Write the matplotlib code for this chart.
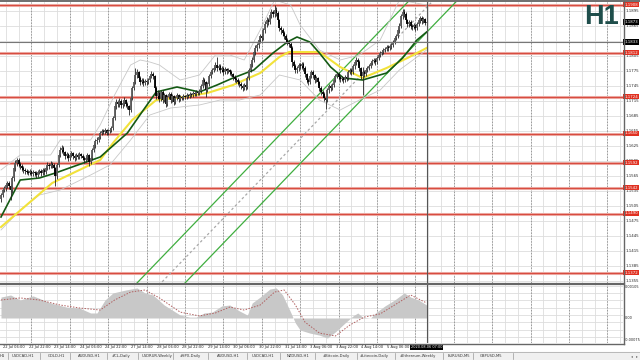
import numpy as np
import pandas as pd
import matplotlib
matplotlib.use("Agg")
import matplotlib.pyplot as plt
from matplotlib.transforms import blended_transform_factory as btf

# ---------------- data (EURUSD H1) ----------------
first_open = 1.1520
closes = [
 1.1527,1.1537,1.1541,1.1547,1.1551,1.1545,1.1537,1.1561,1.1581,1.1591,1.1597,1.1589,1.1585,1.1581,1.1577,1.1575,
 1.1573,1.1571,1.1575,1.1569,1.1573,1.1571,1.1567,1.1573,1.1575,1.1571,1.1577,1.1573,1.1581,1.1587,1.1585,1.1589,
 1.1587,1.1581,1.1565,1.1587,1.1607,1.1617,1.1621,1.1613,1.1605,1.1609,1.1601,1.1607,1.1611,1.1605,1.1601,1.1607,
 1.1603,1.1609,1.1605,1.1601,1.1597,1.1601,1.1607,1.1593,1.1601,1.1617,1.1627,1.1635,1.1637,1.1643,1.1651,1.1655,
 1.1653,1.1657,1.1651,1.1655,1.1657,1.1661,1.1681,1.1705,1.1713,1.1709,1.1715,1.1707,1.1711,1.1717,1.1709,1.1705,
 1.1697,1.1721,1.1741,1.1753,1.1767,1.1773,1.1761,1.1753,1.1757,1.1751,1.1755,1.1753,1.1757,1.1765,1.1769,1.1765,
 1.1741,1.1725,1.1731,1.1719,1.1733,1.1717,1.1727,1.1709,1.1723,1.1729,1.1717,1.1725,1.1713,1.1721,1.1727,1.1719,
 1.1723,1.1721,1.1725,1.1723,1.1727,1.1725,1.1729,1.1727,1.1731,1.1729,1.1733,1.1731,1.1735,1.1745,1.1757,1.1753,
 1.1737,1.1749,1.1765,1.1773,1.1777,1.1781,1.1787,1.1781,1.1785,1.1777,1.1781,1.1773,1.1779,1.1775,1.1777,1.1773,
 1.1769,1.1763,1.1759,1.1757,1.1753,1.1749,1.1745,1.1741,1.1747,1.1743,1.1761,1.1777,1.1789,1.1797,1.1813,1.1821,
 1.1827,1.1837,1.1845,1.1841,1.1857,1.1869,1.1877,1.1873,1.1887,1.1893,1.1889,1.1897,1.1891,1.1877,1.1861,1.1857,
 1.1851,1.1845,1.1837,1.1833,1.1829,1.1821,1.1793,1.1785,1.1777,1.1781,1.1787,1.1785,1.1789,1.1781,1.1769,1.1757,
 1.1753,1.1765,1.1773,1.1767,1.1757,1.1761,1.1753,1.1741,1.1733,1.1729,1.1721,1.1717,1.1737,1.1745,1.1741,1.1747,
 1.1757,1.1765,1.1769,1.1763,1.1759,1.1761,1.1757,1.1763,1.1761,1.1773,1.1777,1.1773,1.1785,1.1793,1.1797,1.1793,
 1.1781,1.1765,1.1773,1.1769,1.1777,1.1781,1.1785,1.1791,1.1795,1.1797,1.1793,1.1801,1.1807,1.1811,1.1813,1.1817,
 1.1819,1.1823,1.1821,1.1825,1.1827,1.1833,1.1841,1.1845,1.1857,1.1865,1.1885,1.1893,1.1889,1.1877,1.1869,1.1873,
 1.1865,1.1863,1.1867,1.1861,1.1869,1.1877,1.1881,1.1875,1.1879,1.1871,1.1873]
highs = [
 1.1532,1.1541,1.1546,1.1552,1.1556,1.1555,1.1549,1.1566,1.1588,1.1598,1.1602,1.1601,1.1593,1.1590,1.1585,1.1582,
 1.1579,1.1577,1.1579,1.1578,1.1577,1.1576,1.1575,1.1577,1.1580,1.1579,1.1582,1.1581,1.1586,1.1593,1.1592,1.1595,
 1.1594,1.1591,1.1584,1.1591,1.1612,1.1623,1.1627,1.1625,1.1616,1.1614,1.1612,1.1611,1.1616,1.1614,1.1609,1.1611,
 1.1611,1.1613,1.1612,1.1609,1.1605,1.1605,1.1611,1.1609,1.1605,1.1621,1.1632,1.1640,1.1643,1.1648,1.1656,1.1660,
 1.1659,1.1661,1.1660,1.1659,1.1661,1.1666,1.1686,1.1711,1.1719,1.1717,1.1721,1.1719,1.1716,1.1723,1.1720,1.1713,
 1.1708,1.1725,1.1746,1.1759,1.1781,1.1779,1.1776,1.1765,1.1762,1.1761,1.1759,1.1759,1.1762,1.1770,1.1775,1.1773,
 1.1768,1.1745,1.1737,1.1735,1.1738,1.1737,1.1732,1.1730,1.1727,1.1734,1.1733,1.1729,1.1728,1.1725,1.1731,1.1730,
 1.1727,1.1726,1.1729,1.1728,1.1731,1.1730,1.1733,1.1732,1.1735,1.1734,1.1737,1.1736,1.1740,1.1750,1.1763,1.1761,
 1.1756,1.1753,1.1770,1.1778,1.1782,1.1786,1.1793,1.1803,1.1790,1.1789,1.1786,1.1784,1.1783,1.1782,1.1781,1.1780,
 1.1777,1.1772,1.1767,1.1763,1.1761,1.1757,1.1753,1.1749,1.1751,1.1751,1.1765,1.1782,1.1794,1.1803,1.1818,1.1827,
 1.1832,1.1842,1.1850,1.1849,1.1862,1.1875,1.1883,1.1882,1.1892,1.1899,1.1897,1.1908,1.1903,1.1895,1.1880,1.1866,
 1.1862,1.1856,1.1850,1.1842,1.1838,1.1833,1.1825,1.1798,1.1790,1.1786,1.1792,1.1791,1.1794,1.1793,1.1785,1.1772,
 1.1761,1.1770,1.1778,1.1777,1.1770,1.1766,1.1764,1.1756,1.1745,1.1737,1.1733,1.1725,1.1742,1.1750,1.1749,1.1752,
 1.1762,1.1770,1.1774,1.1773,1.1767,1.1765,1.1764,1.1767,1.1767,1.1778,1.1782,1.1781,1.1790,1.1798,1.1803,1.1801,
 1.1797,1.1784,1.1783,1.1778,1.1781,1.1786,1.1790,1.1796,1.1800,1.1802,1.1801,1.1806,1.1812,1.1816,1.1818,1.1822,
 1.1824,1.1828,1.1827,1.1830,1.1832,1.1838,1.1846,1.1850,1.1862,1.1871,1.1890,1.1899,1.1900,1.1893,1.1880,1.1878,
 1.1877,1.1869,1.1871,1.1870,1.1873,1.1881,1.1886,1.1885,1.1883,1.1882,1.1877]
lows = [
 1.1514,1.1523,1.1533,1.1536,1.1542,1.1540,1.1517,1.1532,1.1556,1.1576,1.1586,1.1584,1.1580,1.1576,1.1572,1.1570,
 1.1569,1.1567,1.1567,1.1565,1.1565,1.1566,1.1562,1.1563,1.1569,1.1566,1.1567,1.1568,1.1570,1.1577,1.1580,1.1581,
 1.1582,1.1576,1.1545,1.1560,1.1583,1.1603,1.1612,1.1608,1.1600,1.1601,1.1596,1.1597,1.1603,1.1600,1.1596,1.1597,
 1.1599,1.1599,1.1601,1.1597,1.1592,1.1593,1.1598,1.1585,1.1589,1.1598,1.1613,1.1622,1.1630,1.1633,1.1639,1.1647,
 1.1649,1.1649,1.1647,1.1647,1.1651,1.1653,1.1658,1.1677,1.1700,1.1703,1.1704,1.1701,1.1702,1.1706,1.1703,1.1699,
 1.1687,1.1693,1.1717,1.1737,1.1749,1.1762,1.1756,1.1748,1.1749,1.1746,1.1747,1.1748,1.1749,1.1753,1.1761,1.1760,
 1.1737,1.1719,1.1720,1.1713,1.1715,1.1711,1.1713,1.1703,1.1705,1.1719,1.1712,1.1713,1.1708,1.1709,1.1717,1.1714,
 1.1715,1.1717,1.1718,1.1719,1.1720,1.1721,1.1722,1.1723,1.1724,1.1725,1.1726,1.1727,1.1728,1.1732,1.1741,1.1748,
 1.1723,1.1733,1.1745,1.1761,1.1769,1.1773,1.1777,1.1776,1.1777,1.1772,1.1773,1.1768,1.1769,1.1770,1.1771,1.1768,
 1.1765,1.1758,1.1754,1.1752,1.1748,1.1744,1.1740,1.1735,1.1737,1.1738,1.1740,1.1757,1.1773,1.1784,1.1793,1.1808,
 1.1816,1.1822,1.1832,1.1835,1.1837,1.1852,1.1864,1.1867,1.1869,1.1882,1.1883,1.1884,1.1885,1.1871,1.1855,1.1850,
 1.1845,1.1839,1.1831,1.1827,1.1823,1.1815,1.1783,1.1779,1.1771,1.1772,1.1776,1.1779,1.1780,1.1776,1.1764,1.1751,
 1.1748,1.1749,1.1761,1.1762,1.1752,1.1753,1.1748,1.1736,1.1727,1.1723,1.1715,1.1699,1.1713,1.1732,1.1736,1.1737,
 1.1743,1.1753,1.1761,1.1758,1.1754,1.1755,1.1752,1.1753,1.1756,1.1757,1.1769,1.1768,1.1769,1.1780,1.1788,1.1787,
 1.1776,1.1760,1.1727,1.1764,1.1765,1.1773,1.1777,1.1781,1.1787,1.1791,1.1788,1.1789,1.1797,1.1803,1.1807,1.1809,
 1.1813,1.1815,1.1816,1.1817,1.1820,1.1823,1.1829,1.1837,1.1841,1.1852,1.1861,1.1880,1.1883,1.1872,1.1863,1.1864,
 1.1860,1.1858,1.1859,1.1856,1.1857,1.1865,1.1872,1.1870,1.1871,1.1867,1.1868]

# moving averages (bar index, price)
ma_fast_bar = [0, 12, 24, 34, 62, 79, 89, 97, 110, 124, 135, 145, 158, 170, 179, 185, 193, 199, 206, 214, 226, 241, 251, 260, 266]
ma_fast_val = [1.1483,1.1557,1.1561,1.1571,1.1603,1.1651,1.1697,1.1733,1.1743,1.1733,1.1747,1.1761,1.1777,1.1811,
               1.1833,1.1843,1.1833,1.1811,1.1783,1.1761,1.1757,1.1771,1.1801,1.1837,1.1853]
ma_slow_bar = [0, 32, 62, 70, 82, 97, 114, 129, 145, 162, 174, 180, 199, 212, 226, 241, 254, 266]
ma_slow_val = [1.1463,1.1551,1.1597,1.1631,1.1677,1.1717,1.1723,1.1731,1.1747,1.1771,1.1803,1.1813,1.1813,1.1783,
               1.1761,1.1781,1.1801,1.1821]
# envelope bands
band_bar = [0, 12, 31, 37, 56, 62, 71, 81, 87, 93, 99, 112, 124, 134, 143, 152, 162, 171, 181, 187, 199, 212, 224, 237, 249, 266]
band_up = [1.1577,1.1607,1.1607,1.1637,1.1637,1.1667,1.1727,1.1787,1.1797,1.1793,1.1787,1.1757,1.1767,1.1807,1.1807,
           1.1797,1.1857,1.1917,1.1907,1.1867,1.1817,1.1797,1.1807,1.1837,1.1917,1.1907]
band_lo_bar = [0, 12, 24, 37, 56, 68, 81, 93, 106, 124, 137, 149, 162, 174, 187, 199, 212, 224, 237, 249, 266]
band_lo = [1.1457,1.1497,1.1527,1.1537,1.1567,1.1587,1.1637,1.1687,1.1701,1.1707,1.1717,1.1717,1.1727,1.1767,1.1757,
           1.1717,1.1697,1.1717,1.1737,1.1777,1.1817]

# channel (anchor bar, anchor price) and slope per bar
chan_upper = (85, 1.1351)
chan_mid = (100, 1.1351)
chan_lower = (115, 1.1351)
chan_slope = 0.000332

# horizontal levels
levels = [1.1908, 1.1812, 1.1724, 1.1650, 1.1592, 1.1542, 1.1490, 1.1372]
crosshair_bar = 266
crosshair_price = 1.1833

# MACD histogram and signal (bar index, value)
macd_bar = [0,6,12,20,31,41,49,56,60,65,70,78,85,90,95,102,112,118,122,127,132,138,143,149,154,157,162,168,172,176,
            181,184,187,193,199,204,209,215,220,223,226,231,234,240,246,252,256,261,266]
macd_val = [0.00071,0.00078,0.00061,0.00075,0.00051,0.00037,0.00034,0.00017,0.00017,0.00061,0.00085,0.00095,0.00102,
            0.00085,0.00078,0.00044,0.00010,0.00003,0.00003,0.00017,0.00020,0.00041,0.00044,0.00024,0.00010,0.00051,
            0.00071,0.00098,0.00102,0.00078,0.00020,-0.00017,-0.00041,-0.00051,-0.00058,-0.00068,-0.00047,-0.00017,
            0.00007,0.00017,0.00003,0.0,0.00017,0.00041,0.00061,0.00085,0.00071,0.00061,0.00044]
sig_bar = [0,12,24,37,49,62,71,81,90,99,112,124,134,143,152,162,171,177,184,190,199,209,218,227,237,246,256,266]
sig_val = [0.00061,0.00068,0.00061,0.00044,0.00034,0.00027,0.00061,0.00088,0.00095,0.00068,0.00020,0.00007,0.00017,
           0.00037,0.00027,0.00044,0.00088,0.00095,0.00044,-0.00014,-0.00051,-0.00061,-0.00024,0.00003,0.00014,
           0.00044,0.00078,0.00051]
macd_top_label = "0.00105"
macd_bottom_label = "-0.00075"

tabs = ["H1", "USDCAD,H1", "GOLD,H1", "AUDUSD,H1", "#CL,Daily", "USDRUR,Weekly", "#SPX,Daily", "AUDUSD,H1",
        "USDCAD,H1", "NZDUSD,H1", "#Bitcoin,Daily", "#Litecoin,Daily", "#Ethereum,Weekly", "EURUSD,M5", "GBPUSD,M5"]

# ---------------- layout (pixels) ----------------
W, H = 640, 360
tab_x = [0, 12, 48, 78, 112, 142, 180, 217, 252, 287, 323, 360, 400, 448, 480]
tab_sep = [8, 40, 70, 107, 138, 173, 208, 247, 280, 315, 357, 395, 443, 473, 513]

fig = plt.figure(figsize=(6.4, 3.6), dpi=100)
fig.patch.set_facecolor("white")
plt.rcParams["font.family"] = ["DejaVu Sans"]

def fx(px):
    return px / W

def fy(py):
    return 1 - py / H

n = len(closes)
bars = np.arange(n)
opens = np.array([first_open] + closes[:-1])
c = np.array(closes)
hi = np.array(highs)
lo = np.array(lows)
times = pd.date_range("2020-07-22 05:00", periods=24 * 20, freq="h")
times = times[times.dayofweek < 5][:n]

XL = (-0.625, 388.75)
ax = fig.add_axes([0, fy(283), fx(623), (283 - 2) / H])
ax.set_xlim(*XL)
ax.set_ylim(1.1351, 1.1913)
ax.axis("off")

ax2 = fig.add_axes([0, fy(343), fx(623), (343 - 285) / H])
k = 0.0000339
ax2.set_xlim(*XL)
ax2.set_ylim(-25 * k, 33 * k)
ax2.axis("off")

grid_c = "#dddddd"
ticks = np.arange(1.1355, 1.1900, 0.0030)
for t in ticks:
    ax.axhline(t, color=grid_c, lw=0.6, zorder=0)
for v in np.arange(-0.0009, 0.0012, 0.00025):
    ax2.axhline(v, color=grid_c, lw=0.6, zorder=0)
for g in np.arange(3, XL[1], 8):
    ax.axvline(g, color=grid_c, lw=0.6, zorder=0)
    ax2.axvline(g, color=grid_c, lw=0.6, zorder=0)
for g in np.arange(19, XL[1], 24):
    ax.axvline(g, color="#9a9a9a", lw=0.7, ls=(0, (1.5, 1.5)), zorder=1)
    ax2.axvline(g, color="#9a9a9a", lw=0.7, ls=(0, (1.5, 1.5)), zorder=1)

# levels
for lv in levels:
    ax.axhline(lv, color="#eeb3ad", lw=2.2, zorder=2)
    ax.axhline(lv, color="#d84c40", lw=0.9, zorder=2)

# channel
xx = np.array(XL)
for (b0, p0), col, ls in [(chan_upper, "#3fae3f", "-"), (chan_lower, "#3fae3f", "-"), (chan_mid, "#a8a8a8", (0, (2, 2)))]:
    ax.plot(xx, p0 + chan_slope * (xx - b0), color=col, lw=0.9, ls=ls, zorder=3)

# bands
ax.plot(band_bar, band_up, color="#c8c8c8", lw=0.6, zorder=3)
ax.plot(band_lo_bar, band_lo, color="#c8c8c8", lw=0.6, zorder=3)

# moving averages
ax.plot(ma_slow_bar, ma_slow_val, color="#f2e23a", lw=1.5, zorder=4)
ax.plot(ma_fast_bar, ma_fast_val, color="#145a14", lw=1.2, zorder=5)

# candles
ax.vlines(bars, lo, hi, color="#222222", lw=0.6, zorder=6)
bull = c >= opens
body_lo = np.minimum(opens, c)
body_hi = np.maximum(opens, c) + 0.00006
ax.vlines(bars[~bull], body_lo[~bull], body_hi[~bull], color="#000000", lw=1.3, zorder=7)
ax.vlines(bars[bull], body_lo[bull], body_hi[bull], color="#5a5a5a", lw=1.3, zorder=7)

# crosshair
ax.axvline(crosshair_bar, color="#555555", lw=0.8, zorder=8)
ax2.axvline(crosshair_bar, color="#555555", lw=0.8, zorder=8)
ax.axhline(crosshair_price, color="#777777", lw=0.8, zorder=8)

# MACD
ax2.fill_between(macd_bar, 0, macd_val, color="#c8c8c8", lw=0, zorder=3)
ax2.plot(sig_bar, sig_val, color="#b06060", lw=0.7, ls=(0, (1.5, 1.5)), zorder=4)

# frames
fig.add_artist(plt.Line2D([0, 1], [fy(0.5), fy(0.5)], color="#555555", lw=1.2))
fig.add_artist(plt.Line2D([0, fx(624)], [fy(284), fy(284)], color="#666666", lw=1.6))
fig.add_artist(plt.Line2D([0, fx(624)], [fy(343.5), fy(343.5)], color="#666666", lw=1.0))
fig.add_artist(plt.Line2D([fx(623.5), fx(623.5)], [fy(343.5), fy(0.5)], color="#666666", lw=1.0))

# price axis labels
tr = btf(ax.transAxes, ax.transData)
fs = 2.8
for t in ticks:
    ax.text(1.004, t, f"{t:.4f}", transform=tr, fontsize=fs, va="center", ha="left", color="#222222", clip_on=False)
for lv in levels:
    ax.text(1.002, lv, f"{lv:.4f}", transform=tr, fontsize=fs, va="center", ha="left", color="white", clip_on=False,
            bbox=dict(boxstyle="square,pad=0.25", fc="#e03020", ec="none"))
ax.text(1.002, c[-1], f"{c[-1]:.4f}", transform=tr, fontsize=fs, va="center", ha="left", color="white", clip_on=False,
        bbox=dict(boxstyle="square,pad=0.25", fc="#000000", ec="none"))
ax.text(1.002, crosshair_price, f"{crosshair_price:.4f}", transform=tr, fontsize=fs, va="center", ha="left",
        color="white", clip_on=False, bbox=dict(boxstyle="square,pad=0.25", fc="#000000", ec="none"))
tr2 = btf(ax2.transAxes, ax2.transData)
ax2.text(1.003, 31 * k, macd_top_label, transform=tr2, fontsize=2.5, va="center", ha="left", color="#222222", clip_on=False)
ax2.text(1.003, 0, "0.00", transform=tr2, fontsize=2.5, va="center", ha="left", color="#222222", clip_on=False)
ax2.text(1.003, -22 * k, macd_bottom_label, transform=tr2, fontsize=2.5, va="center", ha="left", color="#222222", clip_on=False)

# time labels
trx = btf(ax2.transData, fig.transFigure)
for i in range(1, n - 20, 16):
    d = times[i]
    ax2.text(i + 0.3, fy(347), f"{d.day} {d.strftime('%b')} {d.strftime('%H:%M')}", transform=trx, fontsize=2.6,
             va="center", ha="left", color="#222222", clip_on=False)
d = times[crosshair_bar]
ax2.text(crosshair_bar, fy(347), d.strftime("%Y.%m.%d %H:%M"), transform=trx, fontsize=2.5, va="center",
         ha="center", color="white", clip_on=False, bbox=dict(boxstyle="square,pad=0.3", fc="#000000", ec="none"))

# H1 label
fig.text(fx(601), fy(17), "H1", fontsize=19.5, fontweight="bold", color="#1f4e4b", ha="center", va="center",
         family="Liberation Sans")

# tab bar
fig.add_artist(plt.Rectangle((0, 0), 1, fy(351.5), color="#f0f0f0", zorder=0))
fig.add_artist(plt.Line2D([0, 1], [fy(351.5), fy(351.5)], color="#b0b0b0", lw=0.6))
for name, x0 in zip(tabs, tab_x):
    fig.text(fx(x0), fy(356), name, fontsize=2.7, va="center", ha="left", color="#333333")
for s in tab_sep:
    fig.add_artist(plt.Line2D([fx(s), fx(s)], [fy(353), fy(359)], color="#999999", lw=0.5))
fig.text(fx(631), fy(356), "\u25c2", fontsize=2.7, va="center", color="#666666")
fig.text(fx(636), fy(356), "\u25b8", fontsize=2.7, va="center", color="#666666")

fig.savefig("out.png", dpi=100, facecolor="white")
